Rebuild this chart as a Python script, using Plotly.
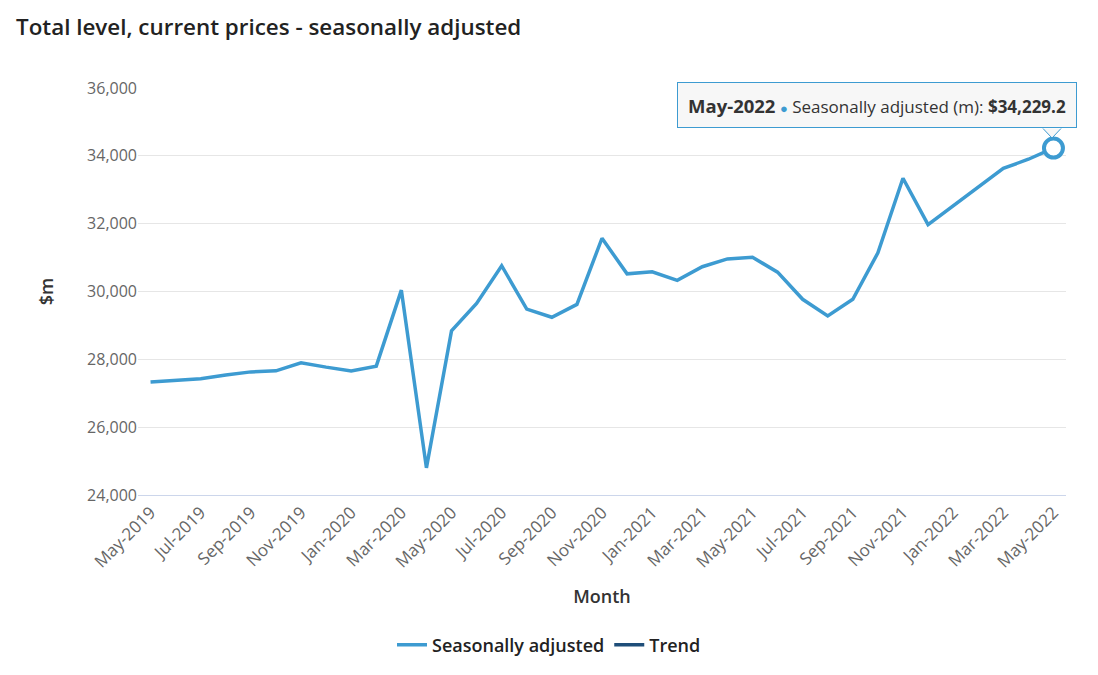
import plotly.graph_objects as go

months = ["May-2019","Jun-2019","Jul-2019","Aug-2019","Sep-2019","Oct-2019","Nov-2019","Dec-2019",
          "Jan-2020","Feb-2020","Mar-2020","Apr-2020","May-2020","Jun-2020","Jul-2020","Aug-2020",
          "Sep-2020","Oct-2020","Nov-2020","Dec-2020","Jan-2021","Feb-2021","Mar-2021","Apr-2021",
          "May-2021","Jun-2021","Jul-2021","Aug-2021","Sep-2021","Oct-2021","Nov-2021","Dec-2021",
          "Jan-2022","Feb-2022","Mar-2022","Apr-2022","May-2022"]
seasonally_adjusted = [27330, 27380, 27430, 27540, 27630, 27660, 27900, 27770,
                       27660, 27800, 30040, 24800, 28840, 29650, 30760, 29480,
                       29240, 29620, 31570, 30520, 30580, 30330, 30730, 30960,
                       31010, 30570, 29770, 29280, 29770, 31140, 33340, 31970,
                       32520, 33090, 33630, 33900, 34229.2]
trend = [None] * len(months)
tick_labels = months[::2]

BLUE = "#3d9bd1"
DARK = "#1f4e79"
FONT = "Open Sans, Noto Sans, sans-serif"

fig = go.Figure()
fig.add_trace(go.Scatter(x=months, y=seasonally_adjusted, mode="lines", name="Seasonally adjusted",
                         line=dict(color=BLUE, width=3.5)))
fig.add_trace(go.Scatter(x=months, y=trend, mode="lines", name="Trend",
                         line=dict(color=DARK, width=3.5)))
# hovered point marker
fig.add_trace(go.Scatter(x=[months[-1]], y=[seasonally_adjusted[-1]], mode="markers", showlegend=False,
                         marker=dict(size=19, color="white", line=dict(color=BLUE, width=4))))

OFF = 8  # page body offset
W, H = 1098 - OFF, 675 - OFF
L, T = 138 - OFF, 88 - OFF
pw, ph = 1066 - 138, 495 - 88
R = W - L - pw
B = H - T - ph

def px(xp):
    return (xp - 138) / pw

def py(yp):
    return (495 - yp) / ph

tip = (f"<b><span style='font-size:18.5px'>{months[-1]}</span></b> "
       f"<span style='color:{BLUE};font-size:13px'>●</span> Seasonally adjusted (m): "
       f"<b>${seasonally_adjusted[-1]:,.1f}</b>")
fig.add_annotation(xref="paper", yref="paper", x=px(677), y=py(82), xanchor="left", yanchor="top",
                   text=tip, showarrow=False, align="center", width=394, height=40,
                   bgcolor="#f7f7f7", bordercolor=BLUE, borderwidth=1, borderpad=2,
                   font=dict(family=FONT, size=17, color="#333333"))
fig.add_shape(type="path", xref="paper", yref="paper",
              path=f"M {px(1043)} {py(128.5)} L {px(1052)} {py(138)} L {px(1061)} {py(128.5)}",
              line=dict(color=BLUE, width=1), fillcolor="#f7f7f7", layer="above")

fig.update_layout(
    width=W, height=H,
    margin=dict(l=L, r=R, t=T, b=B),
    paper_bgcolor="white", plot_bgcolor="white",
    font=dict(family=FONT, color="#333333"),
    title=dict(text="Total level, current prices - seasonally adjusted", x=(16 - OFF) / W, xanchor="left",
               xref="container", y=1 - (27 - OFF) / H, yanchor="middle", yref="container",
               font=dict(size=22.4, color="#222222", family=FONT, weight=600)),
    showlegend=True,
    legend=dict(orientation="h", x=(549 - OFF) / W, xanchor="center", xref="container",
                y=1 - (645 - OFF) / H, yanchor="middle", yref="container",
                font=dict(size=18, color="#222222", family=FONT, weight=600),
                itemwidth=30, tracegroupgap=0),
    xaxis=dict(type="category", categoryorder="array", categoryarray=months, range=[-0.5, len(months) - 0.5],
               tickmode="array", tickvals=tick_labels, ticktext=tick_labels, tickangle=-45,
               tickfont=dict(size=17, color="#666666"), showgrid=False,
               showline=True, linecolor="#ccd6eb", linewidth=1, ticks="", ticklen=0,
               title=dict(text="Month", font=dict(size=18, color="#333333", weight=600), standoff=19)),
    yaxis=dict(range=[24000, 36000], tickvals=[24000, 26000, 28000, 30000, 32000, 34000, 36000],
               tickformat=",", tickfont=dict(size=16, color="#666666"), gridcolor="#e6e6e6",
               zeroline=False, ticks="", ticklen=0,
               title=dict(text="$m", font=dict(size=18, color="#333333", weight=600), standoff=28)),
    hovermode=False,
)

fig.write_html("out.html")
